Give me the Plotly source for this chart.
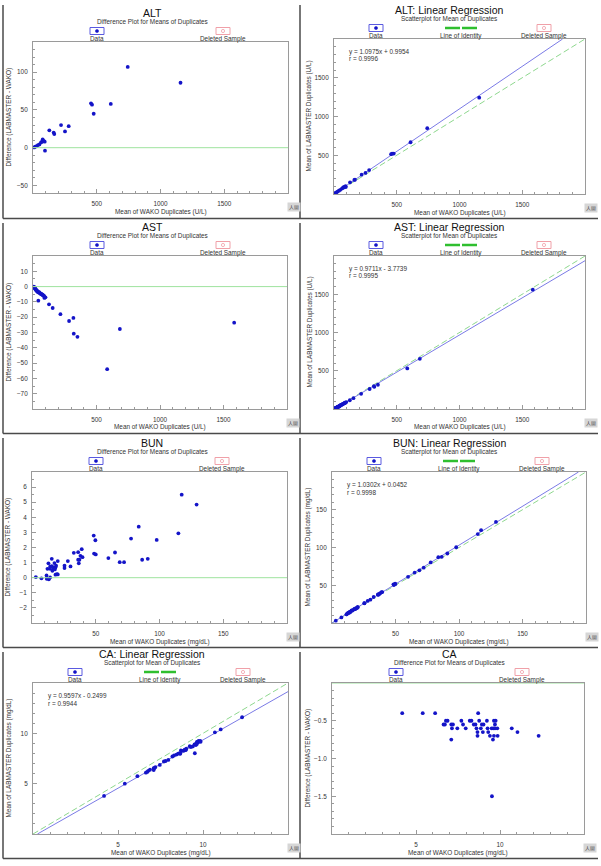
import plotly.graph_objects as go

W, H = 601, 866

# ---------------- data ----------------
alt_wako = [10, 18, 29, 39, 50, 63, 71, 76, 84, 92, 94, 128, 162, 167, 220, 251, 280, 455, 463, 476, 610, 743, 1157]
alt_diff = [0.4, 1.3, 2.2, 3.5, 4.4, 7, 8, 11, 9, 8, -4, 23, 20, 18, 30, 21.5, 28.5, 58.8, 57, 45, 58, 107, 86]
alt_lab = [10.4, 19.3, 31.2, 42.5, 54.4, 70, 79, 87, 93, 100, 90, 151, 182, 185, 250, 272.5, 308.5, 513.8, 520, 521, 668, 850, 1243]

ast_wako = [5, 8, 11, 13, 16, 18, 21, 24, 26, 29, 31, 34, 36, 39, 42, 44, 47, 50, 53, 57,
            61, 65, 69, 73, 77, 80, 84, 88, 90, 98, 126, 155, 216, 284, 318, 321, 350, 584, 684, 1584]
ast_diff = [-0.1, -0.2, -0.6, -0.9, -1.2, -1.5, -1.8, -2.2, -2.4, -2.6, -2.8, -3.0, -3.3, -3.5, -9.2, -3.9, -3.7, -3.8, -4.1, -4.5,
            -4.6, -4.9, -5.0, -5.3, -5.5, -5.7, -5.9, -6.2, -7.4, -7.0, -11.6, -14, -18, -22.5, -20.5, -30.8, -32.8, -54, -27.7, -23.6]
ast_lab = [4.9, 7.8, 10.4, 12.1, 14.8, 16.5, 19.2, 21.8, 23.6, 26.4, 28.2, 31.0, 32.7, 35.5, 32.8, 40.1, 43.3, 46.2, 48.9, 52.5,
           56.4, 60.1, 64.0, 67.7, 71.5, 74.3, 78.1, 81.8, 82.6, 91.0, 114.4, 141, 198, 261.5, 297.5, 290.2, 317.2, 530, 656.3, 1560.4]

bun_wako = [117.4, 129.1, 114.8, 83.7, 77.7, 97.8, 86.4, 90.8, 65.1, 59.9, 68.8, 72.2, 48.4, 49.7, 48.7, 50.0, 39.0, 32.8, 36.2, 38.0,
            39.6, 36.2, 37.2, 36.7, 28.1, 25.5, 25.5, 30.2, 20.2, 15.5, 12.9, 17.6, 14.2, 15.5, 16.8, 18.4, 18.9, 12.1, 14.2, 16.0,
            17.9, 19.5, 18.4, 11.4, 11.6, 13.2, 14.2, 7.4, 3.0, 20.2]
bun_diff = [5.5, 4.84, 2.94, 3.38, 2.59, 2.5, 1.19, 1.25, 1.67, 1.30, 1.03, 1.03, 2.79, 2.48, 1.6, 1.54, 1.89, 1.65, 1.69, 1.45,
            1.36, 1.19, 1.19, 0.95, 1.1, 0.79, 0.64, 0.75, 1.1, 1.25, 0.95, 0.97, 0.73, 0.77, 0.68, 0.68, 0.79, 0.59, 0.59, 0.46,
            0.55, 0.24, 0.2, 0.15, -0.07, -0.11, 0.02, -0.04, 0.04, 0.22]
bun_lab = [122.9, 133.94, 117.74, 87.08, 80.29, 100.3, 87.59, 92.05, 66.77, 61.2, 69.83, 73.23, 51.19, 52.18, 50.3, 51.54, 40.89, 34.45, 37.89, 39.45,
           40.96, 37.39, 38.39, 37.65, 29.2, 26.29, 26.14, 30.95, 21.3, 16.75, 13.85, 18.57, 14.93, 16.27, 17.48, 19.08, 19.69, 12.69, 14.79, 16.46,
           18.45, 19.74, 18.6, 11.55, 11.53, 13.09, 14.22, 7.36, 3.04, 20.42]

ca_wako = [4.18, 5.4, 6.14, 8.7, 6.78, 6.88, 6.64, 6.72, 7.1, 7.2, 7.14, 7.1, 7.46, 7.7, 7.8, 7.96, 8.2, 8.3, 8.44, 8.54,
           8.6, 8.66, 8.66, 8.76, 8.86, 8.92, 9.02, 8.98, 9.22, 9.26, 9.3, 9.4, 9.5, 9.6, 9.58, 9.64, 9.74, 9.7, 9.7, 9.64,
           9.84, 9.86, 9.52, 10.7, 11.04, 12.3]
ca_diff = [-0.4, -0.4, -0.4, -0.4, -0.5, -0.5, -0.55, -0.55, -0.55, -0.55, -0.6, -0.75, -0.6, -0.5, -0.55, -0.6, -0.5, -0.5, -0.55, -0.55,
           -0.6, -0.65, -0.7, -0.5, -0.6, -0.55, -0.55, -0.65, -0.5, -0.6, -0.65, -0.7, -0.6, -0.6, -0.75, -0.5, -0.5, -0.55, -0.6, -0.7,
           -0.6, -0.7, -1.5, -0.6, -0.65, -0.7]
ca_lab = [3.78, 5.0, 5.74, 8.3, 6.28, 6.38, 6.09, 6.17, 6.55, 6.65, 6.54, 6.35, 6.86, 7.2, 7.25, 7.36, 7.7, 7.8, 7.89, 7.99,
          8.0, 8.01, 7.96, 8.26, 8.26, 8.37, 8.47, 8.33, 8.72, 8.66, 8.65, 8.7, 8.9, 9.0, 8.83, 9.14, 9.24, 9.15, 9.1, 8.94,
          9.24, 9.16, 8.02, 10.1, 10.39, 11.6]

# regression fits (as printed on the charts)
alt_fit = (1.0975, 0.9954, "y = 1.0975x + 0.9954", "r = 0.9996")
ast_fit = (0.9711, -3.7739, "y = 0.9711x - 3.7739", "r = 0.9995")
bun_fit = (1.0302, 0.0452, "y = 1.0302x + 0.0452", "r = 0.9998")
ca_fit = (0.9597, -0.2499, "y = 0.9597x - 0.2499", "r = 0.9944")

# ---------------- styling ----------------
FONT = "Liberation Sans, Arial, sans-serif"
SMALL = 6.4
TXT = "#333333"
BLUE = "#1414c8"
REG = "#7b7be6"
IDENT = "#8ed88e"
ZERO = "#9ee39e"
AXC = "#9a9a9a"

panels = [
    dict(kind="diff", name="ALT", x=alt_wako, y=alt_diff, rect=(33, 288, 42, 193),
         xr=[0, 2000], yr=[-60, 140], xt=[500, 1000, 1500], yt=[-50, 0, 50, 100], xm=100, ym=10, unit="U/L", fmt=""),
    dict(kind="lr", name="ALT", x=alt_wako, y=alt_lab, rect=(334, 585, 39, 194),
         xr=[0, 2000], yr=[0, 2000], xt=[500, 1000, 1500], yt=[500, 1000, 1500], xm=100, ym=100, unit="U/L", fit=alt_fit, fmt=""),
    dict(kind="diff", name="AST", x=ast_wako, y=ast_diff, rect=(33, 287, 256, 409),
         xr=[0, 2000], yr=[-80, 20], xt=[500, 1000, 1500], yt=[-70, -60, -50, -40, -30, -20, -10, 0, 10], xm=100, ym=5, unit="U/L", fmt=""),
    dict(kind="lr", name="AST", x=ast_wako, y=ast_lab, rect=(334, 585, 256, 409),
         xr=[0, 2000], yr=[0, 2000], xt=[500, 1000, 1500], yt=[500, 1000, 1500], xm=100, ym=100, unit="U/L", fit=ast_fit, fmt=""),
    dict(kind="diff", name="BUN", x=bun_wako, y=bun_diff, rect=(32, 287, 472, 623),
         xr=[0, 200], yr=[-3, 7], xt=[50, 100, 150], yt=[-2, -1, 0, 1, 2, 3, 4, 5, 6], xm=10, ym=0.5, unit="mg/dL", fmt=""),
    dict(kind="lr", name="BUN", x=bun_wako, y=bun_lab, rect=(332, 586, 472, 623),
         xr=[0, 200], yr=[0, 200], xt=[50, 100, 150], yt=[50, 100, 150], xm=10, ym=10, unit="mg/dL", fit=bun_fit, fmt=""),
    dict(kind="lr", name="CA", x=ca_wako, y=ca_lab, rect=(33, 288, 683, 834),
         xr=[0, 15], yr=[0, 15], xt=[5, 10], yt=[5, 10], xm=1, ym=1, unit="mg/dL", fit=ca_fit, fmt=""),
    dict(kind="diff", name="CA", x=ca_wako, y=ca_diff, rect=(332, 584, 683, 834),
         xr=[0, 15], yr=[-2, 0], xt=[5, 10], yt=[-1.5, -1.0, -0.5], xm=1, ym=0.1, unit="mg/dL", fmt=".1f"),
]


def px(v):
    return v / W


def py(v):
    return 1 - v / H


fig = go.Figure()
shapes = []
ann = []
layout = {}


def text(x, y, s, size=SMALL, color=TXT, xanchor="center", yanchor="middle", angle=0, **kw):
    ann.append(dict(x=px(x), y=py(y), xref="paper", yref="paper", text=s, showarrow=False,
                    xanchor=xanchor, yanchor=yanchor, textangle=angle,
                    font=dict(family=FONT, size=size, color=color), **kw))


for i, p in enumerate(panels, start=1):
    sfx = "" if i == 1 else str(i)
    x0, x1, y0, y1 = p["rect"]
    xa, ya = "x" + sfx, "y" + sfx
    common = dict(showgrid=False, zeroline=False, showline=True, mirror=True, linecolor=AXC, linewidth=1,
                  ticks="inside", ticklen=4, tickcolor=AXC, tickwidth=1, tickmode="array",
                  tickfont=dict(family=FONT, size=SMALL, color=TXT), fixedrange=True)
    layout["xaxis" + sfx] = dict(common, domain=[px(x0), px(x1)], anchor=ya, range=p["xr"], tickvals=p["xt"],
                                  ticklabelstandoff=4,
                                  minor=dict(ticks="inside", ticklen=2, tickcolor=AXC, dtick=p["xm"], tick0=0))
    layout["yaxis" + sfx] = dict(common, domain=[py(y1), py(y0)], anchor=xa, range=p["yr"], tickvals=p["yt"],
                                  tickformat=p["fmt"], ticklabelstandoff=3,
                                  minor=dict(ticks="inside", ticklen=2, tickcolor=AXC, dtick=p["ym"], tick0=0))

    cx_title = 152 if x0 < 300 else 449
    top = y0
    if p["kind"] == "diff":
        title = p["name"]
        sub = "Difference Plot for Means of Duplicates"
        ytitle = "Difference (LABMASTER - WAKO)"
        legx = [(x0 + 64, "Data"), (x0 + 190, "Deleted Sample")]
        shapes.append(dict(type="line", xref=xa + " domain", yref=ya, x0=0, x1=1, y0=0, y1=0,
                           line=dict(color=ZERO, width=1)))
    else:
        title = p["name"] + ": Linear Regression"
        sub = "Scatterplot for Mean of Duplicates"
        ytitle = "Mean of LABMASTER Duplicates (" + p["unit"] + ")"
        legx = [(x0 + 42, "Data"), (x0 + 127, "Line of Identity"), (x0 + 210, "Deleted Sample")]
        m, b, eq, rt = p["fit"]
        mx = p["xr"][1]
        xs = max(0.0, -b / m)
        xe = min(mx, (mx - b) / m)
        fig.add_trace(go.Scatter(x=[0, mx], y=[0, mx], xaxis=xa, yaxis=ya, mode="lines",
                                 line=dict(color=IDENT, width=1, dash="6px,3px"), hoverinfo="skip"))
        fig.add_trace(go.Scatter(x=[xs, xe], y=[m * xs + b, m * xe + b], xaxis=xa, yaxis=ya, mode="lines",
                                 line=dict(color=REG, width=1), hoverinfo="skip"))
        text(x0 + 13, top + 13, eq, xanchor="left")
        text(x0 + 13, top + 20, rt, xanchor="left")

    fig.add_trace(go.Scatter(x=p["x"], y=p["y"], xaxis=xa, yaxis=ya, mode="markers",
                             marker=dict(color=BLUE, size=3.8, line=dict(width=0))))

    # titles
    text(cx_title, top - 29, title, size=10.5, color="#111111")
    text(cx_title, top - 20, sub)
    # axis titles
    text((x0 + x1) / 2, y1 + 18.5, "Mean of WAKO Duplicates (" + p["unit"] + ")")
    text(x0 - 25, (y0 + y1) / 2, ytitle, angle=-90)
    # small icon
    text(x1 + 6, y1 + 14, "人圖", size=5, color="#444444", bgcolor="#d6d6d6", borderpad=1)

    # legend
    by = top - 11
    ly = top - 3.5
    for lx, lab in legx:
        if lab == "Data":
            shapes.append(dict(type="rect", xref="paper", yref="paper", x0=px(lx - 7), x1=px(lx + 7),
                               y0=py(by + 3.5), y1=py(by - 3.5), line=dict(color="#5a5ae0", width=1)))
            shapes.append(dict(type="circle", xref="paper", yref="paper", x0=px(lx - 1.6), x1=px(lx + 1.6),
                               y0=py(by + 1.6), y1=py(by - 1.6), fillcolor=BLUE, line=dict(color=BLUE, width=0.5)))
        elif lab == "Deleted Sample":
            shapes.append(dict(type="rect", xref="paper", yref="paper", x0=px(lx - 7), x1=px(lx + 7),
                               y0=py(by + 3.5), y1=py(by - 3.5), line=dict(color="#f0a0a8", width=1)))
            shapes.append(dict(type="circle", xref="paper", yref="paper", x0=px(lx - 1.6), x1=px(lx + 1.6),
                               y0=py(by + 1.6), y1=py(by - 1.6), line=dict(color="#f0a0a8", width=0.8)))
        else:
            for a, c in ((lx - 16, lx - 1), (lx + 1, lx + 16)):
                shapes.append(dict(type="line", xref="paper", yref="paper", x0=px(a), x1=px(c),
                                   y0=py(by), y1=py(by), line=dict(color="#2fbf2f", width=2.5)))
        text(lx, ly, lab)

# panel frame lines (left + bottom edges)
rows = [(5, 218.5), (223, 433.5), (438, 647.5), (652, 858.5)]
for (ya0, ya1) in rows:
    for xl in (3, 300):
        shapes.append(dict(type="line", xref="paper", yref="paper", x0=px(xl), x1=px(xl), y0=py(ya0), y1=py(ya1),
                           line=dict(color="#4a4a4a", width=1.5)))
    shapes.append(dict(type="line", xref="paper", yref="paper", x0=px(3), x1=px(598), y0=py(ya1), y1=py(ya1),
                       line=dict(color="#4a4a4a", width=1.5)))

fig.update_layout(**layout)
fig.update_layout(width=W, height=H, margin=dict(l=0, r=0, t=0, b=0), showlegend=False,
                  plot_bgcolor="white", paper_bgcolor="white", shapes=shapes, annotations=ann,
                  font=dict(family=FONT, size=SMALL, color=TXT))

fig.write_html("out.html", config={"displayModeBar": False})
